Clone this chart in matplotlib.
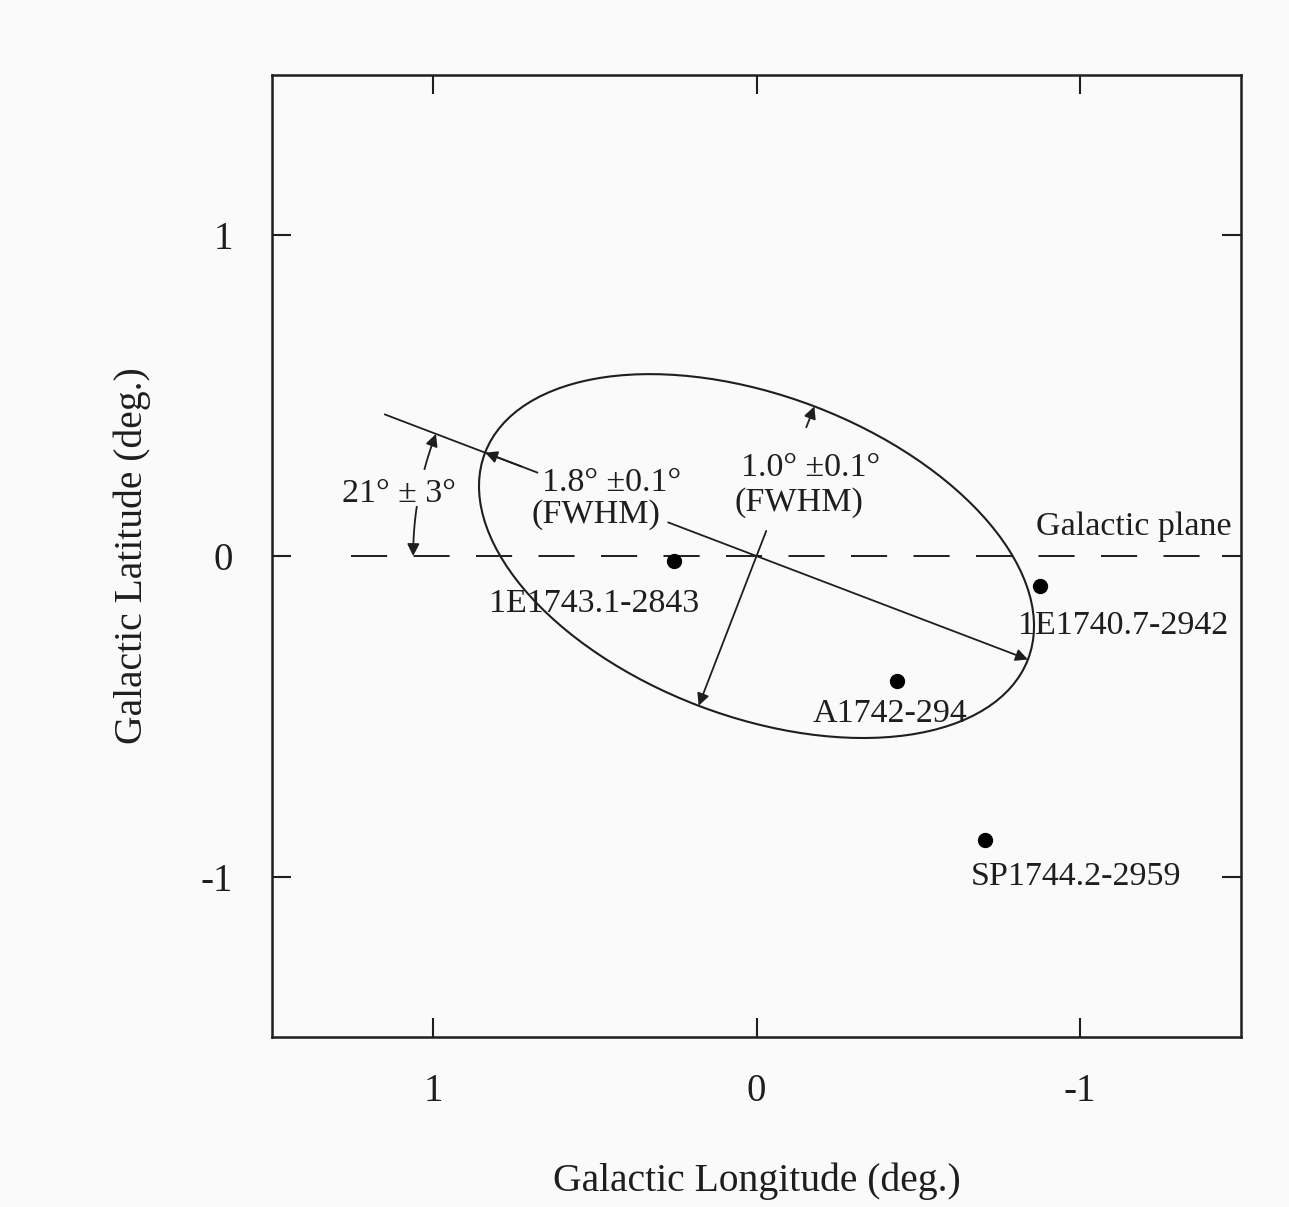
import numpy as np
import matplotlib.pyplot as plt
from matplotlib.patches import Ellipse

plt.rcParams['font.family'] = ['Liberation Serif', 'DejaVu Serif']
plt.rcParams['lines.scale_dashes'] = False

# X-ray sources near the Galactic centre (l, b in degrees)
source_names = ['1E1743.1-2843', '1E1740.7-2942', 'A1742-294', 'SP1744.2-2959']
source_lon = [0.255, -0.879, -0.436, -0.707]
source_lat = [-0.016, -0.094, -0.390, -0.884]
# label anchor (centre x, baseline y) for each source
label_lon = [0.502, -1.136, -0.414, -0.990]
label_lat = [-0.175, -0.244, -0.519, -1.025]

# fitted emission region
center = (0.0, 0.0)
major_fwhm = 1.8
minor_fwhm = 1.0
tilt_deg = 21.0

ticks = [1, 0, -1]

ink = '#1e1e1e'
bg = '#fafafa'

fig = plt.figure(figsize=(12.89, 12.07), dpi=100, facecolor=bg)
ax = fig.add_axes([0.211, 0.1408, 0.7518, 0.797], facecolor=bg)

ax.set_xlim(1.5, -1.5)
ax.set_ylim(-1.5, 1.5)

# ellipse
ell = Ellipse(center, width=major_fwhm, height=minor_fwhm, angle=tilt_deg,
              fill=False, edgecolor=ink, lw=1.5)
ax.add_patch(ell)

# galactic plane
ax.plot([1.255, -1.5], [0, 0], color=ink, lw=1.4, dashes=(26, 19))

t = np.radians(tilt_deg)
u_major = np.array([np.cos(t), np.sin(t)])
u_minor = np.array([-np.sin(t), np.cos(t)])
c = np.array(center)
a_half = major_fwhm / 2
b_half = minor_fwhm / 2

arrow = dict(arrowstyle='-|>', color=ink, lw=1.3, mutation_scale=18,
             shrinkA=0, shrinkB=0)

# major axis, extended beyond the ellipse for the angle marker
p0 = c + 1.232 * u_major
p1 = c + 0.727 * u_major
ax.plot([p0[0], p1[0]], [p0[1], p1[1]], color=ink, lw=1.3)
ax.annotate('', xy=c + a_half * u_major, xytext=c + 0.78 * u_major, arrowprops=arrow)
ax.annotate('', xy=c - a_half * u_major, xytext=c + 0.293 * u_major, arrowprops=arrow)

# minor axis
ax.annotate('', xy=c - b_half * u_minor, xytext=c + 0.084 * u_minor, arrowprops=arrow)
ax.annotate('', xy=c + b_half * u_minor, xytext=c + 0.43 * u_minor, arrowprops=arrow)

# angle between major axis and plane
r = 1.063
th = np.radians(np.linspace(14.8, tilt_deg - 1.5, 20))
ax.plot(r * np.cos(th), r * np.sin(th), color=ink, lw=1.3)
ax.annotate('', xy=(r * np.cos(t), r * np.sin(t)),
            xytext=(r * np.cos(np.radians(tilt_deg - 2)), r * np.sin(np.radians(tilt_deg - 2))),
            arrowprops=arrow)
th = np.radians(np.linspace(8.3, 1.5, 20))
ax.plot(r * np.cos(th), r * np.sin(th), color=ink, lw=1.3)
ax.annotate('', xy=(r, 0), xytext=(r * np.cos(np.radians(2)), r * np.sin(np.radians(2))),
            arrowprops=arrow)

# sources
ax.plot(source_lon, source_lat, 'o', color='black', ms=10)
for name, x, y in zip(source_names, label_lon, label_lat):
    ax.text(x, y, name, ha='center', va='baseline', fontsize=24.5, color=ink)

txt = dict(fontsize=24.5, color=ink, va='baseline')
ax.text(1.106, 0.169, '21° ± 3°', ha='center', **txt)
ax.text(0.449, 0.203, '1.8° ±0.1°', ha='center', **txt)
ax.text(0.498, 0.103, '(FWHM)', ha='center', **txt)
ax.text(-0.168, 0.25, '1.0° ±0.1°', ha='center', **txt)
ax.text(-0.131, 0.14, '(FWHM)', ha='center', **txt)
ax.text(-1.168, 0.066, 'Galactic plane', ha='center', **txt)

ax.set_xticks(ticks)
ax.set_yticks(ticks)
ax.set_xticklabels([str(v) for v in ticks])
ax.set_yticklabels([str(v) for v in ticks])
ax.tick_params(direction='in', length=14, width=1.5, top=True, right=True,
               labelsize=28, colors=ink)
ax.tick_params(axis='x', pad=26)
ax.tick_params(axis='y', pad=28)
for s in ax.spines.values():
    s.set_linewidth(1.8)
    s.set_color(ink)

ax.set_xlabel('Galactic Longitude (deg.)', fontsize=28.5, color=ink, labelpad=38)
ax.set_ylabel('Galactic Latitude (deg.)', fontsize=28.5, color=ink, labelpad=36)

fig.savefig('out.png', dpi=100, facecolor=bg)
